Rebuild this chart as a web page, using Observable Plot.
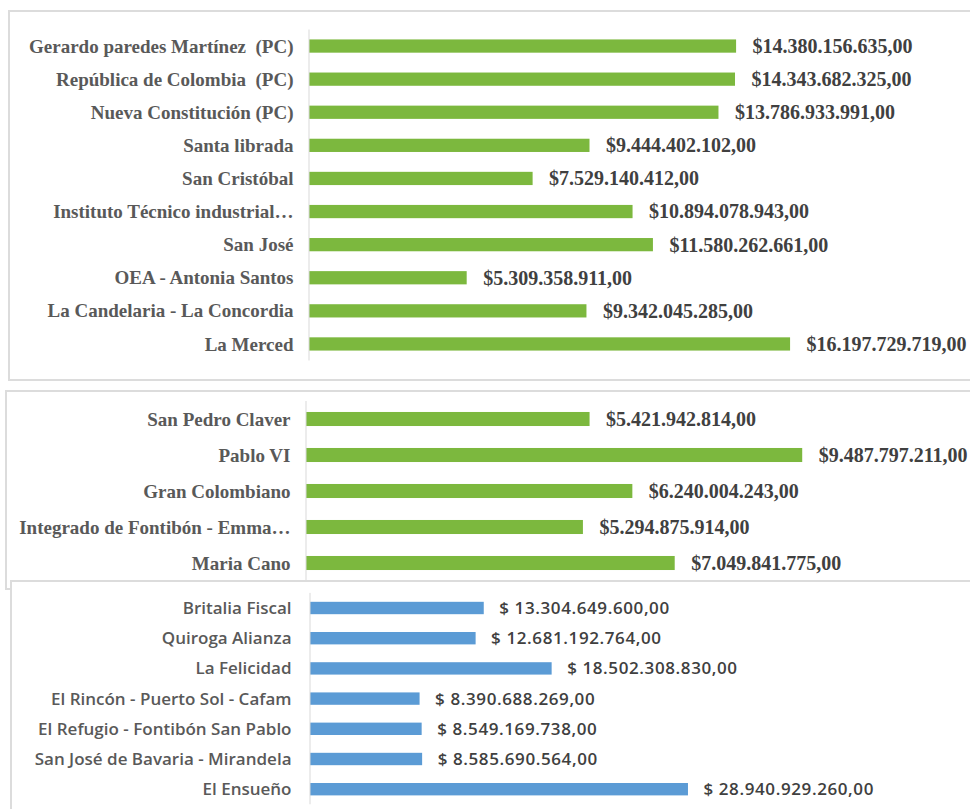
<!DOCTYPE html>
<html>
<head>
<meta charset="utf-8">
<script src="https://cdn.jsdelivr.net/npm/d3@7"></script>
<script src="https://cdn.jsdelivr.net/npm/@observablehq/plot@0.6"></script>
<style>
  html, body { margin: 0; padding: 0; background: #fff; }
  #page { position: relative; width: 970px; height: 809px; overflow: hidden; background: #fff; }
  .box { position: absolute; border: 2px solid #dcdcdc; box-sizing: border-box; }
  #page svg { position: absolute; left: 0; }
  #page svg.spaced g[aria-label="text"] text { letter-spacing: 0.6px; }
</style>
</head>
<body>
<div id="page"></div>
<script>
// ---------- Data ----------
const names1 = [
  "Gerardo paredes Martínez  (PC)",
  "República de Colombia  (PC)",
  "Nueva Constitución (PC)",
  "Santa librada",
  "San Cristóbal",
  "Instituto Técnico industrial…",
  "San José",
  "OEA - Antonia Santos",
  "La Candelaria - La Concordia",
  "La Merced"
];
const values1 = [
  14380156635, 14343682325, 13786933991, 9444402102, 7529140412,
  10894078943, 11580262661, 5309358911, 9342045285, 16197729719
];

const names2 = [
  "San Pedro Claver",
  "Pablo VI",
  "Gran Colombiano",
  "Integrado de Fontibón - Emma…",
  "Maria Cano"
];
const values2 = [5421942814, 9487797211, 6240004243, 5294875914, 7049841775];

const names3 = [
  "Britalia Fiscal",
  "Quiroga Alianza",
  "La Felicidad",
  "El Rincón - Puerto Sol - Cafam",
  "El Refugio - Fontibón San Pablo",
  "San José de Bavaria - Mirandela",
  "El Ensueño"
];
const values3 = [
  13304649600, 12681192764, 18502308830, 8390688269,
  8549169738, 8585690564, 28940929260
];

// ---------- Formatting ----------
const fmtA = d3.formatLocale({decimal: ",", thousands: ".", grouping: [3], currency: ["$", ""]}).format("$,.2f");
const fmtB = d3.formatLocale({decimal: ",", thousands: ".", grouping: [3], currency: ["$ ", ""]}).format("$,.2f");

const page = document.getElementById("page");
function addBox(left, top, width, height, bg) {
  const d = document.createElement("div");
  d.className = "box";
  Object.assign(d.style, {left: left + "px", top: top + "px", width: width + "px", height: height + "px"});
  if (bg) d.style.background = bg;
  page.appendChild(d);
}
function addPlot(svg, top, cls) {
  svg.style.top = top + "px";
  if (cls) svg.classList.add(cls);
  page.appendChild(svg);
}

function makeChart(o) {
  const data = o.names.map((name, i) => ({name, value: o.values[i]}));
  return Plot.plot({
    width: 970,
    height: o.height,
    marginLeft: o.x0,
    marginRight: 970 - o.x0 - o.domainMax * o.k,
    marginTop: o.marginTop,
    marginBottom: o.height - o.marginTop - o.step * o.names.length,
    style: {
      background: "transparent",
      overflow: "visible",
      fontFamily: o.font,
      fontSize: o.catSize + "px",
      fontWeight: o.weight,
      color: "#595959"
    },
    x: {domain: [0, o.domainMax], axis: null},
    y: {
      domain: o.names,
      paddingInner: o.padding,
      paddingOuter: o.padding / 2,
      round: false,
      label: null,
      tickSize: 0,
      tickPadding: o.tickPadding
    },
    marks: [
      Plot.barX(data, {y: "name", x: "value", fill: o.color}),
      Plot.ruleX([0], {stroke: "#d9d9d9", strokeWidth: 1, dx: -0.5}),
      Plot.text(data, {
        y: "name", x: "value", text: d => o.fmt(d.value),
        textAnchor: "start", dx: o.dx, fill: "#404040",
        fontSize: o.valSize, fontWeight: o.weight, fontFamily: o.font
      })
    ]
  });
}

const serif = "'Liberation Serif', 'Times New Roman', serif";
const sans = "'Open Sans', 'Noto Sans', sans-serif";

// Panel 1
addBox(8, 10, 1000, 371);
addPlot(makeChart({
  names: names1, values: values1, height: 375, marginTop: 29.5, step: 33.1,
  x0: 309, k: 29.7e-9, domainMax: 20e9, padding: 0.6, tickPadding: 16,
  color: "#7CB83E", font: serif, weight: 700, catSize: 19, valSize: 20, dx: 16, fmt: fmtA
}), 0);

// Panel 2
addBox(5, 390, 1000, 200);
addPlot(makeChart({
  names: names2, values: values2, height: 196, marginTop: 11, step: 36,
  x0: 306, k: 52.3e-9, domainMax: 10e9, padding: 0.61, tickPadding: 16,
  color: "#7CB83E", font: serif, weight: 700, catSize: 19, valSize: 20, dx: 16, fmt: fmtA
}), 390);

// Panel 3
addBox(10, 580, 1000, 300, "#fff");
addPlot(makeChart({
  names: names3, values: values3, height: 229, marginTop: 12.9, step: 30.2,
  x0: 310, k: 13.06e-9, domainMax: 30e9, padding: 0.59, tickPadding: 19,
  color: "#5B9BD5", font: sans, weight: 600, catSize: 17, valSize: 17, dx: 15, fmt: fmtB
}), 580, "spaced");
</script>
</body>
</html>
